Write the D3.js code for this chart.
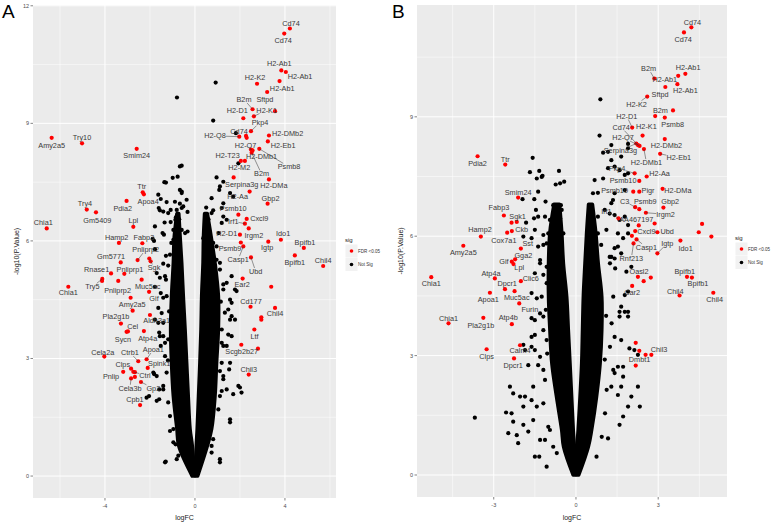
<!DOCTYPE html>
<html>
<head>
<meta charset="utf-8">
<script src="https://cdn.jsdelivr.net/npm/d3@7"></script>
<style>
  body { margin: 0; background: #fff; }
  svg { display: block; font-family: "Liberation Sans", Arial, sans-serif; }
</style>
</head>
<body>
<svg id="chart" width="778" height="524"></svg>
<script>
// labelled genes: [name, logFC, -log10(p), label logFC, label -log10(p)]
const genesA = [
  ['Amy2a5', -6.37, 8.63, -6.37, 8.43], ['Try10', -5.02, 8.49, -5.02, 8.65],
  ['Smim24', -2.59, 8.35, -2.59, 8.18], ['Ttr', -2.32, 7.24, -2.37, 7.39],
  ['Apoa4', -2.27, 7.19, -2.08, 7.0], ['Try4', -4.81, 6.80, -4.89, 6.95],
  ['Gm5409', -4.4, 6.73, -4.34, 6.52], ['Pdia2', -3.04, 7.02, -3.21, 6.83],
  ['Chia1', -6.59, 6.32, -6.74, 6.46], ['Lpl', -2.74, 6.36, -2.74, 6.51],
  ['Hamp2', -3.38, 5.95, -3.48, 6.09], ['Fabp3', -2.34, 5.94, -2.27, 6.08],
  ['Pnliprp2', -2.55, 5.51, -2.19, 5.78], ['Gm5771', -3.30, 5.45, -3.73, 5.61],
  ['Sgk', -2.03, 5.55, -1.82, 5.31], ['Rnase1', -3.73, 5.17, -4.37, 5.28],
  ['Pnliprp1', -3.14, 5.16, -2.89, 5.28], ['Try5', -4.12, 5.03, -4.56, 4.83],
  ['Pnliprp2', -3.41, 4.98, -3.44, 4.74], ['Muc5ac', -2.37, 5.01, -2.10, 4.84],
  ['Chia1', -5.63, 4.83, -5.63, 4.69], ['Gif', -2.04, 4.70, -1.82, 4.52],
  ['Amy2a5', -2.86, 4.55, -2.79, 4.38], ['Pla2g1b', -3.29, 3.89, -3.51, 4.08],
  ['Aldh3a1', -2.0, 4.11, -1.70, 3.97], ['Cel', -3.04, 3.68, -2.77, 3.81],
  ['Sycn', -2.98, 3.69, -3.2, 3.49], ['Atp4a', -2.27, 3.70, -2.10, 3.51],
  ['Cela2a', -4.03, 3.05, -4.10, 3.16], ['Ctrb1', -2.52, 2.93, -2.89, 3.15],
  ['Apoa1', -2.15, 2.98, -1.85, 3.23], ['Clps', -2.84, 2.74, -3.21, 2.85],
  ['Spink1', -2.10, 2.76, -1.59, 2.87], ['Pnlip', -3.19, 2.66, -3.73, 2.53],
  ['Ctrl', -2.74, 2.66, -2.22, 2.57], ['Cela3b', -2.84, 2.49, -2.89, 2.24],
  ['Gp2', -2.4, 2.40, -1.85, 2.24], ['Cpb1', -2.44, 1.81, -2.67, 1.96],
  ['Cd74', 4.22, 11.42, 4.27, 11.54], ['Cd74', 3.97, 11.29, 3.92, 11.12],
  ['H2-Ab1', 3.84, 10.35, 3.75, 10.53], ['H2-Ab1', 4.04, 10.31, 4.67, 10.19],
  ['H2-K2', 2.76, 10.01, 2.67, 10.17], ['H2-Ab1', 3.76, 10.08, 3.88, 9.90],
  ['Sftpd', 3.21, 9.80, 3.11, 9.62], ['B2m', 2.56, 9.36, 2.18, 9.61],
  ['H2-D1', 2.15, 9.13, 1.88, 9.33], ['H2-K1', 2.62, 9.18, 3.19, 9.34],
  ['Pkp4', 2.49, 8.80, 2.89, 9.03], ['Cd74', 2.27, 8.68, 1.96, 8.79],
  ['H2-Q8', 1.97, 8.66, 0.89, 8.68], ['H2-DMb2', 3.29, 8.69, 4.12, 8.74],
  ['H2-Eb1', 3.24, 8.54, 3.92, 8.43], ['H2-Q7', 2.49, 8.33, 2.25, 8.44],
  ['Psmb8', 2.86, 8.35, 4.18, 7.89], ['H2-DMb1', 2.56, 8.31, 2.96, 8.16],
  ['H2-T23', 2.04, 8.04, 1.45, 8.18], ['H2-M2', 2.22, 8.04, 1.97, 7.87],
  ['B2m', 2.52, 8.25, 2.96, 7.71], ['H2-DMa', 3.29, 7.57, 3.51, 7.41],
  ['Serpina3g', 1.72, 7.62, 2.08, 7.45], ['H2-Aa', 2.43, 7.26, 1.90, 7.13],
  ['Gbp2', 3.23, 6.95, 3.36, 7.07], ['Psmb10', 1.93, 6.67, 1.70, 6.84],
  ['Cxcl9', 2.30, 6.56, 2.86, 6.58], ['Irf1', 2.22, 6.44, 1.70, 6.50],
  ['Irgm2', 2.39, 6.32, 2.62, 6.14], ['H2-D1', 2.0, 6.16, 1.41, 6.18],
  ['Ido1', 3.82, 6.03, 3.92, 6.18], ['Igtp', 3.26, 5.98, 3.21, 5.82],
  ['Bpifb1', 4.84, 5.82, 4.89, 5.95], ['Psmb9', 2.04, 5.96, 1.56, 5.81],
  ['Casp1', 2.15, 5.86, 1.92, 5.52], ['Ubd', 2.49, 5.58, 2.70, 5.22],
  ['Bpifb1', 4.44, 5.63, 4.44, 5.46], ['Chil4', 5.70, 5.36, 5.70, 5.49],
  ['Ear2', 2.12, 5.04, 2.10, 4.88], ['Cd177', 2.47, 4.32, 2.49, 4.45],
  ['Chil4', 3.56, 4.29, 3.56, 4.14], ['Ltf', 2.64, 3.74, 2.65, 3.57],
  ['Scgb2b27', 2.8, 3.25, 2.08, 3.18], ['Chil3', 2.39, 2.59, 2.39, 2.72]
]
const extraRedA = [
  [-1.97, 5.48], [-4.13, 4.98], [-2.77, 4.22], [-2.67, 2.65], [-2.67, 2.53],
  [3.56, 9.31], [2.30, 8.63], [3.39, 4.83], [2.95, 4.05], [2.95, 3.99], [2.06, 3.35]
]
const notSigA = [
  [-0.80, 9.66], [-0.59, 7.92], [-1.36, 7.50], [-1.29, 7.49], [-0.99, 7.61], [-0.77, 7.64],
  [-0.67, 7.30], [-0.59, 7.26], [-1.63, 7.18], [-1.52, 7.07], [-1.26, 6.99], [-0.89, 7.0],
  [-0.67, 6.95], [-1.61, 6.84], [-1.56, 6.78], [-1.08, 6.79], [-1.19, 6.71], [-1.41, 6.75],
  [-0.81, 6.79], [-0.59, 6.84], [-0.33, 6.74], [-1.35, 6.47], [-1.08, 6.48], [-0.87, 6.54],
  [-1.78, 6.37], [-0.96, 6.28], [-0.74, 6.33], [-0.59, 6.28], [-1.44, 6.20], [-1.38, 6.16],
  [-0.33, 6.24], [-1.88, 6.05], [-1.82, 6.0], [-0.96, 6.03], [-0.74, 5.86], [-1.78, 5.79],
  [-1.29, 5.62], [-1.11, 5.65], [-1.41, 5.42], [-1.19, 5.37], [-1.70, 5.18], [-1.56, 5.06],
  [-1.29, 5.01], [-1.78, 4.83], [-1.52, 4.67], [-1.41, 4.55], [-1.63, 4.29], [-1.48, 4.16],
  [-1.78, 3.99], [-1.63, 3.91], [-1.59, 3.66], [-1.41, 3.57], [-1.52, 3.32], [-1.33, 3.40],
  [-1.85, 2.64], [-1.70, 2.55], [-1.41, 2.30], [-1.59, 2.21], [-1.81, 2.60], [-1.70, 1.92],
  [-1.59, 1.96], [-2.15, 2.0], [-2.04, 2.04], [-1.11, 1.15], [-0.96, 1.20], [-0.96, 0.86],
  [-0.86, 0.81], [-1.30, 0.37], [-0.74, 0.52],
  [-1.33, 5.10], [-1.26, 4.59], [-1.41, 3.91], [-1.56, 3.57], [-1.19, 3.49], [-1.33, 3.06],
  [-1.26, 2.64], [-1.41, 2.21], [-1.19, 1.88], [-1.11, 1.53], [-1.33, 0.35], [-0.81, 0.43],
  [-1.15, 4.20], [-1.20, 2.95], [-1.05, 5.95], [-0.85, 6.60], [-0.70, 6.55],
  [0.96, 5.52], [1.11, 5.44], [1.63, 5.10], [1.26, 4.89], [1.41, 4.93], [1.78, 4.76],
  [1.85, 4.72], [1.56, 4.50], [1.63, 4.42], [1.48, 4.25], [1.63, 4.08], [1.78, 3.99],
  [1.56, 3.99], [1.48, 3.61], [1.63, 3.57], [1.19, 3.40], [1.26, 3.32], [1.56, 2.89],
  [1.52, 2.72], [1.11, 2.68], [1.26, 2.55], [1.93, 2.30], [2.0, 2.26], [2.07, 2.13],
  [1.70, 2.09], [1.41, 2.21], [1.19, 2.17], [1.56, 1.37], [1.56, 1.45], [1.11, 0.35],
  [0.81, 0.94], [0.74, 0.60], [0.92, 10.04], [0.81, 9.07], [1.82, 8.75], [1.93, 7.98],
  [0.96, 7.62], [1.26, 7.51], [1.11, 7.39], [1.08, 7.30], [1.56, 7.22], [1.70, 7.13],
  [0.74, 7.09], [1.26, 6.96], [1.19, 6.84], [0.81, 6.78], [0.74, 6.71], [1.26, 6.62],
  [1.41, 6.54], [1.19, 6.46], [0.52, 6.20], [0.67, 6.11], [0.37, 6.07], [0.81, 5.95],
  [0.96, 5.86], [-0.37, 7.05], [-0.59, 7.22], [-0.67, 7.90], [-0.52, 6.88], [-0.44, 6.20],
  [1.11, 5.27], [1.26, 4.76], [1.33, 4.17], [1.19, 3.74], [1.41, 3.32], [1.19, 2.89],
  [1.26, 2.47], [1.11, 2.04], [1.04, 1.70], [1.11, 0.43], [0.74, 0.77], [1.15, 4.45],
  [1.05, 6.20], [0.60, 6.55], [0.50, 6.85]
]
// dense arms of the volcano: [-log10(p), outer logFC, inner logFC]
const armLeftA = [
  [0, -0.12, -0.02], [0.77, -0.72, -0.12], [1.2, -0.8, -0.22], [2.04, -0.96, -0.30],
  [2.89, -1.04, -0.37], [3.74, -1.08, -0.44], [4.59, -1.04, -0.52], [5.44, -0.96, -0.59],
  [6.1, -0.92, -0.66], [6.7, -0.8, -0.72]
]
const armRightA = [
  [0, 0.12, 0.02], [0.77, 0.55, 0.06], [1.2, 0.74, 0.10], [2.04, 0.89, 0.16],
  [2.89, 0.96, 0.22], [3.74, 1.04, 0.27], [4.59, 1.04, 0.30], [5.44, 0.89, 0.36],
  [6.1, 0.72, 0.38], [6.7, 0.55, 0.43]
]

const genesB = [
  ['Pdia2', -3.59, 8.01, -3.59, 7.83], ['Ttr', -2.58, 7.80, -2.58, 7.93],
  ['Smim24', -2.11, 6.97, -2.11, 7.10], ['Fabp3', -2.63, 6.52, -2.81, 6.73],
  ['Sgk1', -2.16, 6.36, -2.13, 6.50], ['Cox7a1', -2.51, 6.09, -2.63, 5.88],
  ['Ckb', -2.34, 6.13, -1.98, 6.16], ['Hamp2', -3.47, 5.99, -3.50, 6.16],
  ['Sst', -2.01, 5.69, -1.76, 5.82], ['Amy2a5', -4.11, 5.76, -4.11, 5.60],
  ['Gga2', -2.22, 5.42, -1.92, 5.51], ['Gif', -2.34, 5.36, -2.63, 5.36],
  ['Lpl', -2.28, 5.30, -2.07, 5.22], ['Chia1', -5.28, 4.97, -5.28, 4.82],
  ['Atp4a', -2.96, 4.94, -3.10, 5.07], ['Clic6', -2.01, 4.87, -1.65, 4.94],
  ['Dpcr1', -2.59, 4.67, -2.51, 4.82], ['Muc5ac', -2.24, 4.62, -2.16, 4.46],
  ['Apoa1', -3.14, 4.58, -3.20, 4.41], ['Furin', -2.07, 4.31, -1.68, 4.17],
  ['Chia1', -4.65, 3.81, -4.65, 3.94], ['Pla2g1b', -3.38, 3.95, -3.47, 3.75],
  ['Atp4b', -2.34, 3.79, -2.47, 3.95], ['Calm4', -2.04, 3.26, -2.04, 3.12],
  ['Clps', -3.26, 3.16, -3.26, 2.97], ['Dpcr1', -2.26, 2.93, -2.29, 2.76],
  ['Cd74', 4.21, 11.25, 4.25, 11.37], ['Cd74', 3.94, 11.12, 3.91, 10.95],
  ['H2-Ab1', 3.99, 10.08, 4.09, 10.23], ['H2-Ab1', 3.73, 10.03, 3.24, 9.94],
  ['B2m', 2.86, 9.96, 2.65, 10.21], ['H2-Ab1', 3.70, 9.82, 3.99, 9.66],
  ['Sftpd', 3.26, 9.75, 3.07, 9.57], ['H2-K2', 2.60, 9.51, 2.21, 9.32],
  ['B2m', 2.89, 9.02, 3.08, 9.15], ['H2-D1', 2.05, 8.73, 1.85, 9.02],
  ['Psmb8', 3.24, 8.98, 3.53, 8.81], ['Cd74', 2.26, 8.29, 1.65, 8.74],
  ['H2-K1', 2.43, 8.53, 2.57, 8.75], ['H2-Q7', 2.32, 8.27, 1.72, 8.48],
  ['H2-DMb2', 3.24, 8.44, 3.30, 8.27], ['Serpina3g', 2.2, 8.33, 1.62, 8.15],
  ['H2-DMb1', 2.48, 8.19, 2.57, 7.85], ['H2-Eb1', 3.07, 8.07, 3.75, 7.97],
  ['Pkp4', 2.14, 7.58, 1.50, 7.71], ['H2-Aa', 2.58, 7.50, 3.05, 7.58],
  ['Psmb10', 2.31, 7.39, 1.72, 7.41], ['Psmb10', 2.09, 7.12, 1.41, 7.14],
  ['Pigr', 2.31, 7.12, 2.63, 7.14], ['H2-DMa', 3.16, 7.19, 3.72, 7.14],
  ['C3', 2.16, 6.73, 1.78, 6.88], ['Psmb9', 2.31, 6.68, 2.53, 6.86],
  ['Gbp2', 3.19, 6.72, 3.44, 6.86], ['Irgm2', 2.55, 6.59, 3.27, 6.55],
  ['Irf1', 1.55, 6.45, 1.11, 6.63], ['AA467197', 2.29, 6.27, 2.2, 6.41],
  ['Cxcl9', 2.16, 6.13, 2.57, 6.13], ['Ubd', 2.97, 6.10, 3.33, 6.13],
  ['Igtp', 2.97, 5.57, 3.33, 5.82], ['Ido1', 3.81, 5.89, 4.0, 5.70],
  ['Casp1', 2.21, 5.92, 2.57, 5.72], ['Rnf213', 2.1, 5.82, 2.02, 5.44],
  ['Oasl2', 2.26, 4.98, 2.30, 5.11], ['Car2', 2.05, 4.75, 2.05, 4.58],
  ['Bpifb1', 4.05, 4.98, 3.97, 5.11], ['Bpifb1', 4.23, 4.96, 4.45, 4.80],
  ['Chil4', 3.78, 4.51, 3.62, 4.62], ['Chil4', 5.01, 4.58, 5.06, 4.41],
  ['Chil3', 2.75, 3.02, 3.03, 3.16], ['Dmbt1', 2.18, 2.75, 2.32, 2.90]
]
const extraRedB = [
  [-2.35, 6.34], [3.54, 9.16], [2.87, 6.32], [2.04, 6.01], [4.6, 6.31], [4.48, 6.10],
  [4.94, 5.99], [2.47, 4.87], [2.73, 4.96], [2.18, 3.32], [2.31, 3.12], [2.54, 3.02]
]
const notSigB = [
  [-1.58, 7.97], [-1.34, 7.64], [-1.25, 7.49], [-1.22, 7.52], [-1.43, 7.45], [-1.68, 7.61],
  [-0.62, 7.64], [-0.74, 7.30], [-0.58, 7.33], [-0.43, 7.37], [-1.38, 7.12], [-1.95, 6.93],
  [-1.52, 6.93], [-1.11, 6.87], [-1.46, 6.66], [-0.83, 6.78], [-0.55, 6.78], [-0.65, 6.68],
  [-0.52, 6.66], [-1.53, 6.45], [-1.38, 6.49], [-1.13, 6.49], [-0.95, 6.41], [-0.70, 6.32],
  [-0.58, 6.45], [-1.82, 6.34], [-1.92, 5.99], [-1.62, 5.95], [-1.50, 6.16], [-1.19, 6.03],
  [-1.01, 6.07], [-0.83, 6.03], [-0.46, 6.07], [-1.38, 5.74], [-1.19, 5.78], [-1.07, 5.82],
  [-0.83, 5.70], [-0.52, 5.74], [-1.31, 5.40], [-1.07, 5.23], [-0.83, 5.23], [-1.50, 5.07],
  [-1.19, 5.03], [-1.07, 4.82], [-1.62, 4.57], [-1.43, 4.44], [-1.62, 3.94], [-1.50, 3.89],
  [-1.31, 4.06], [-1.19, 3.98], [-1.62, 3.47], [-1.50, 3.52], [-1.07, 3.39], [-1.92, 3.27],
  [-1.86, 3.14], [-1.62, 3.22], [-1.50, 3.14], [-1.74, 2.76], [-1.38, 2.76], [-1.19, 2.64],
  [-2.41, 2.22], [-2.29, 2.05], [-2.04, 1.97], [-1.56, 2.22], [-1.86, 1.97], [-2.55, 1.57],
  [-2.35, 1.55], [-2.29, 1.34], [-1.92, 1.72], [-1.62, 1.88], [-1.43, 1.72], [-2.47, 1.05],
  [-2.16, 1.0], [-2.11, 0.80], [-1.92, 1.26], [-1.74, 1.09], [-1.56, 1.38], [-1.50, 0.46],
  [-1.34, 0.46], [-1.13, 0.88], [-1.01, 1.21], [-0.70, 0.55], [-1.07, 0.21], [-3.69, 1.44],
  [-1.31, 5.32], [-1.25, 4.48], [-1.19, 3.64], [-1.31, 2.97], [-1.13, 2.39], [-1.19, 1.80],
  [-0.95, 1.13], [-0.83, 0.71], [-1.31, 0.88], [-1.10, 4.15], [-1.05, 3.05],
  [0.89, 9.44], [0.86, 8.53], [1.29, 8.29], [0.99, 8.10], [1.17, 8.12], [1.90, 8.32],
  [1.90, 8.21], [1.29, 7.91], [1.65, 8.0], [1.17, 7.71], [1.41, 7.75], [1.59, 7.66],
  [1.78, 7.54], [1.90, 7.58], [0.68, 7.41], [0.99, 7.45], [0.62, 7.08], [0.80, 7.09],
  [1.41, 7.08], [1.78, 7.16], [1.29, 6.83], [1.35, 6.91], [0.50, 6.66], [0.80, 6.49],
  [1.05, 6.66], [1.23, 6.57], [1.41, 6.53], [1.59, 6.41], [1.78, 6.49], [1.90, 6.28],
  [0.56, 6.16], [0.80, 6.07], [1.11, 6.16], [1.53, 6.07], [1.72, 5.95], [1.90, 6.07],
  [0.56, 5.74], [0.92, 5.78], [1.41, 5.70], [1.29, 5.48], [1.65, 5.57], [1.53, 5.74],
  [1.23, 5.48], [1.41, 5.44], [1.84, 5.11], [2.02, 5.23], [1.43, 5.19], [1.90, 4.61],
  [1.78, 4.52], [1.65, 4.23], [1.59, 4.10], [1.78, 4.10], [1.90, 4.10], [1.90, 3.98],
  [1.59, 3.98], [1.41, 3.47], [1.65, 3.39], [1.95, 3.18], [2.13, 3.14], [2.26, 3.02],
  [1.53, 2.72], [1.72, 2.72], [1.41, 2.56], [1.72, 2.47], [1.65, 2.22], [2.26, 2.22],
  [2.02, 1.97], [2.33, 1.72], [1.90, 1.72], [1.72, 1.47], [1.59, 1.26], [1.17, 0.92],
  [1.53, 2.01], [1.29, 2.22],
  [1.24, 5.32], [1.36, 4.48], [1.30, 3.81], [1.24, 3.22], [1.36, 2.64], [1.12, 2.14],
  [1.06, 1.55], [0.94, 0.96], [0.75, 0.46], [1.10, 4.00], [1.05, 2.90]
]
const armLeftB = [
  [0, -0.1, -0.02], [0.71, -0.45, -0.06], [1.13, -0.52, -0.10], [1.97, -0.71, -0.16],
  [2.81, -0.88, -0.22], [3.64, -0.95, -0.28], [4.48, -1.0, -0.34], [5.32, -1.0, -0.46],
  [6.1, -0.95, -0.52], [6.8, -0.8, -0.6]
]
const armRightB = [
  [0, 0.1, 0.02], [0.71, 0.45, 0.04], [1.13, 0.57, 0.08], [1.97, 0.75, 0.15],
  [2.81, 0.88, 0.21], [3.64, 0.94, 0.24], [4.48, 0.94, 0.27], [5.32, 0.81, 0.33],
  [6.1, 0.72, 0.39], [6.8, 0.6, 0.46]
]

const xTicksA = [-4, 0, 4]
const xMinorA = [-6, -2, 2, 6]
const xTicksB = [-3, 0, 3]
const xMinorB = [-4.5, -1.5, 1.5, 4.5]
const yTicksA = [0, 3, 6, 9, 12]
const yTicksB = [0, 3, 6, 9]
const yMinor = [1.5, 4.5, 7.5, 10.5]
const legendLabels = ['FDR <0.05', 'Not Sig']
const legendColors = ['#ff0000', '#000000']

const svg = d3.select('#chart')
svg.append('rect').attr('width', 778).attr('height', 524).attr('fill', '#fff')

function drawPanel(p) {
  const x = d3.scaleLinear().domain(p.xDomain).range([p.left, p.right])
  const y = d3.scaleLinear().domain(p.yDomain).range([p.bottom, p.top])
  const g = svg.append('g')

  g.append('rect')
    .attr('x', p.left).attr('y', p.top)
    .attr('width', p.right - p.left).attr('height', p.bottom - p.top)
    .attr('fill', '#ebebeb')

  // grid, minor first
  const grid = g.append('g').attr('stroke', '#fff')
  grid.selectAll('.xm').data(p.xMinor.filter(v => x(v) > p.left && x(v) < p.right)).join('line')
    .attr('x1', d => x(d)).attr('x2', d => x(d)).attr('y1', p.top).attr('y2', p.bottom)
    .attr('stroke-width', 0.5)
  grid.selectAll('.ym').data(p.yMinor.filter(v => y(v) > p.top)).join('line')
    .attr('y1', d => y(d)).attr('y2', d => y(d)).attr('x1', p.left).attr('x2', p.right)
    .attr('stroke-width', 0.5)
  grid.selectAll('.xM').data(p.xTicks).join('line')
    .attr('x1', d => x(d)).attr('x2', d => x(d)).attr('y1', p.top).attr('y2', p.bottom)
    .attr('stroke-width', 1)
  grid.selectAll('.yM').data(p.yTicks).join('line')
    .attr('y1', d => y(d)).attr('y2', d => y(d)).attr('x1', p.left).attr('x2', p.right)
    .attr('stroke-width', 1)

  // dense part of the cloud
  const area = d3.area().curve(d3.curveCatmullRom)
    .y(d => y(d[0])).x0(d => x(d[1])).x1(d => x(d[2]))
  g.selectAll('.arm').data([p.armL, p.armR]).join('path')
    .attr('d', area)
    .attr('fill', '#000').attr('stroke', '#000')
    .attr('stroke-width', 3.6).attr('stroke-linejoin', 'round')

  g.selectAll('.ns').data(p.notSig).join('circle')
    .attr('cx', d => x(d[0])).attr('cy', d => y(d[1])).attr('r', 2.1).attr('fill', '#000')

  const red = p.genes.map(d => [d[1], d[2]]).concat(p.extraRed)
  g.selectAll('.sig').data(red).join('circle')
    .attr('cx', d => x(d[0])).attr('cy', d => y(d[1])).attr('r', 2.1).attr('fill', '#ff0000')

  // labels with repel-style segments
  p.genes.forEach(d => {
    const t = g.append('text')
      .attr('x', x(d[3])).attr('y', y(d[4]))
      .attr('text-anchor', 'middle').attr('dominant-baseline', 'central')
      .attr('font-size', 7.3).attr('fill', '#3a3a3a')
      .text(d[0])
    const bb = t.node().getBBox()
    const cx = bb.x + bb.width / 2, cy = bb.y + bb.height / 2
    const px = x(d[1]), py = y(d[2])
    const dx = px - cx, dy = py - cy
    const s = Math.min(dx ? (bb.width / 2) / Math.abs(dx) : Infinity, dy ? (bb.height / 2 - 1) / Math.abs(dy) : Infinity)
    if (s >= 1) return
    const sx = cx + dx * s, sy = cy + dy * s
    if (Math.hypot(px - sx, py - sy) < 6) return
    g.append('line')
      .attr('x1', sx).attr('y1', sy).attr('x2', px).attr('y2', py)
      .attr('stroke', '#333').attr('stroke-width', 0.5)
  })

  // axes
  const ax = g.append('g').attr('fill', '#4d4d4d').attr('font-size', 5.5)
  p.yTicks.forEach(v => {
    ax.append('line').attr('x1', p.left - 2.5).attr('x2', p.left).attr('y1', y(v)).attr('y2', y(v))
      .attr('stroke', '#333').attr('stroke-width', 0.6)
    ax.append('text').attr('x', p.left - 4).attr('y', y(v))
      .attr('text-anchor', 'end').attr('dominant-baseline', 'central').text(v)
  })
  p.xTicks.forEach(v => {
    ax.append('line').attr('x1', x(v)).attr('x2', x(v)).attr('y1', p.bottom).attr('y2', p.bottom + 2.5)
      .attr('stroke', '#333').attr('stroke-width', 0.6)
    ax.append('text').attr('x', x(v)).attr('y', p.bottom + 8)
      .attr('text-anchor', 'middle').attr('dominant-baseline', 'central').text(v)
  })
  g.append('text')
    .attr('x', (p.left + p.right) / 2).attr('y', 517)
    .attr('text-anchor', 'middle').attr('dominant-baseline', 'central')
    .attr('font-size', 7).attr('fill', '#222').text('logFC')
  g.append('text')
    .attr('transform', `translate(${p.left - 17},${(p.top + p.bottom) / 2}) rotate(-90)`)
    .attr('text-anchor', 'middle').attr('dominant-baseline', 'central')
    .attr('font-size', 7).attr('fill', '#222').text('-log10(P.Value)')

  g.append('text').attr('x', p.letterX).attr('y', 11)
    .attr('dominant-baseline', 'central')
    .attr('font-size', 19).attr('fill', '#000').text(p.letter)

  // legend
  const lg = g.append('g').attr('transform', `translate(${p.legendX},${p.legendY})`)
  lg.append('text').attr('x', 0).attr('y', 0).attr('dominant-baseline', 'central')
    .attr('font-size', 6).attr('fill', '#222').text('sig')
  legendLabels.forEach((lab, i) => {
    const ky = 11 + i * 13.5
    lg.append('rect').attr('x', 0.5).attr('y', ky - 6.5).attr('width', 12).attr('height', 13)
      .attr('fill', '#f2f2f2')
    lg.append('circle').attr('cx', 6.5).attr('cy', ky).attr('r', 1.8).attr('fill', legendColors[i])
    lg.append('text').attr('x', 13).attr('y', ky).attr('dominant-baseline', 'central')
      .attr('font-size', 4.5).attr('fill', '#333').text(lab)
  })
}

drawPanel({
  letter: 'A', letterX: 2,
  left: 33, right: 336, top: 5, bottom: 498,
  xDomain: [-7.2, 6.27], yDomain: [-0.56, 12.02],
  xTicks: xTicksA, xMinor: xMinorA, yTicks: yTicksA, yMinor: yMinor,
  genes: genesA, extraRed: extraRedA, notSig: notSigA, armL: armLeftA, armR: armRightA,
  legendX: 345, legendY: 240
})
drawPanel({
  letter: 'B', letterX: 392,
  left: 417, right: 727, top: 5, bottom: 497,
  xDomain: [-5.8, 5.51], yDomain: [-0.553, 11.81],
  xTicks: xTicksB, xMinor: xMinorB, yTicks: yTicksB, yMinor: yMinor,
  genes: genesB, extraRed: extraRedB, notSig: notSigB, armL: armLeftB, armR: armRightB,
  legendX: 735, legendY: 238
})
</script>
</body>
</html>
